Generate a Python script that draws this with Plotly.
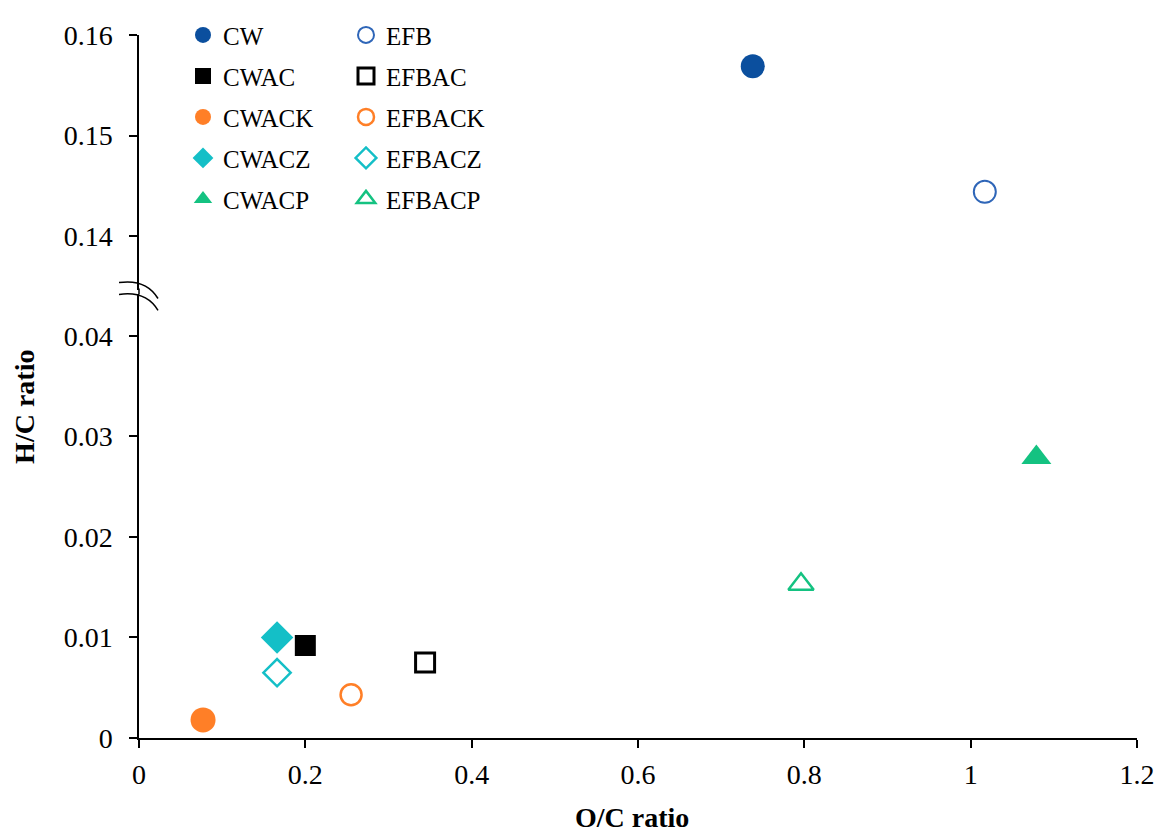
import plotly.graph_objects as go

# ---------------- data ----------------
series_names = ["CW", "EFB", "CWAC", "EFBAC", "CWACK", "EFBACK", "CWACZ", "EFBACZ", "CWACP", "EFBACP"]
oc_ratio = [0.738, 1.017, 0.200, 0.344, 0.077, 0.255, 0.166, 0.166, 1.079, 0.796]
hc_ratio = [0.1569, 0.1444, 0.0092, 0.0075, 0.0018, 0.0043, 0.0100, 0.0065, 0.0279, 0.0153]

# ---------------- styles ----------------
BLUE = "#0B4F9E"
BLUE2 = "#2F66B8"
ORANGE = "#FF7F27"
CYAN = "#14BFC7"
GREEN = "#14C281"
styles = {
    "CW":     dict(symbol="circle", size=24, color=BLUE, line=dict(width=0)),
    "EFB":    dict(symbol="circle-open", size=22, color=BLUE2, line=dict(width=2, color=BLUE2)),
    "CWAC":   dict(symbol="square", size=21, color="black", line=dict(width=0)),
    "EFBAC":  dict(symbol="square-open", size=19, color="black", line=dict(width=3, color="black")),
    "CWACK":  dict(symbol="circle", size=25, color=ORANGE, line=dict(width=0)),
    "EFBACK": dict(symbol="circle-open", size=21, color=ORANGE, line=dict(width=2.5, color=ORANGE)),
    "CWACZ":  dict(symbol="diamond", size=25, color=CYAN, line=dict(width=0)),
    "EFBACZ": dict(symbol="diamond-open", size=21, color=CYAN, line=dict(width=2.5, color=CYAN)),
    "CWACP":  dict(symbol="triangle-up", size=26, color=GREEN, line=dict(width=0)),
    "EFBACP": dict(symbol="triangle-up-open", size=22, color=GREEN, line=dict(width=2.5, color=GREEN)),
}
upper_series = {"CW", "EFB"}

FONT = "Liberation Serif"
W, H = 1158, 839
ML, MR, MT, MB = 139, 21, 31, 101
PW, PH = W - ML - MR, H - MT - MB
PX_PER_UNIT = 10110.0

LOW_RANGE = [0, 447 / PX_PER_UNIT]
UP_RANGE = [0.16 - 256 / PX_PER_UNIT, 0.16]
low_dom = [0, 447 / PH]
up_dom = [1 - 256 / PH, 1]

fig = go.Figure()
for i, name in enumerate(series_names):
    st = styles[name]
    fig.add_trace(go.Scatter(
        x=[oc_ratio[i]], y=[hc_ratio[i]], mode="markers", name=name,
        marker=st,
        yaxis="y2" if name in upper_series else "y",
        legend="legend" if i % 2 == 0 else "legend2",
        legendgroup=name,
    ))

def px2paper(px, py):
    return (px - ML) / PW, (H - MB - py) / PH

# axis-break marks
shapes = []
for yoff in (0, 12):
    x0, y0 = px2paper(119, 280 + yoff)
    xc, yc = px2paper(146, 276 + yoff)
    x1, y1 = px2paper(158, 296 + yoff)
    shapes.append(dict(type="path", xref="paper", yref="paper",
                       path=f"M {x0},{y0} Q {xc},{yc} {x1},{y1}",
                       line=dict(color="black", width=1.5)))
# connect axis line through the break gap
ga, gb = px2paper(139, 286), px2paper(139, 292)
shapes.append(dict(type="line", xref="paper", yref="paper", x0=0, x1=0, y0=ga[1], y1=gb[1],
                   line=dict(color="black", width=1.5)))

common_y = dict(showline=True, linecolor="black", linewidth=1.5, ticks="outside", ticklen=8,
                tickcolor="black", tickwidth=1.5, showgrid=False, zeroline=False, automargin=False,
                tickfont=dict(family=FONT, size=28, color="black"), dtick=0.01, tick0=0,
                ticklabelstandoff=11)

legend_common = dict(font=dict(family=FONT, size=25, color="black"), bgcolor="rgba(0,0,0,0)",
                     tracegroupgap=5.5, yanchor="top", xanchor="left", itemsizing="trace")

tx, ty = px2paper(25, 405)
bx, by = px2paper(632, 818)

fig.update_layout(
    template="none",
    width=W, height=H,
    margin=dict(l=ML, r=MR, t=MT, b=MB),
    paper_bgcolor="white", plot_bgcolor="white",
    xaxis=dict(range=[0, 1.2], dtick=0.2, tick0=0, showline=True, linecolor="black", linewidth=1.5,
               ticks="outside", ticklen=8, tickcolor="black", tickwidth=1.5, showgrid=False,
               zeroline=False, anchor="y", automargin=False,
               tickfont=dict(family=FONT, size=28, color="black"), ticklabelstandoff=3),
    yaxis=dict(range=LOW_RANGE, domain=low_dom, anchor="x", **common_y),
    yaxis2=dict(range=UP_RANGE, domain=up_dom, anchor="x", **common_y),
    legend=dict(x=px2paper(183, 0)[0], y=px2paper(0, 8)[1], **legend_common),
    legend2=dict(x=px2paper(346, 0)[0], y=px2paper(0, 8)[1], **legend_common),
    shapes=shapes,
    annotations=[
        dict(text="<b>H/C ratio</b>", xref="paper", yref="paper", x=tx, y=ty, textangle=-90,
             xanchor="center", yanchor="middle",
             showarrow=False, font=dict(family=FONT, size=28, color="black")),
        dict(text="<b>O/C ratio</b>", xref="paper", yref="paper", x=bx, y=by,
             xanchor="center", yanchor="middle",
             showarrow=False, font=dict(family=FONT, size=28, color="black")),
    ],
)

fig.write_html("out.html")
